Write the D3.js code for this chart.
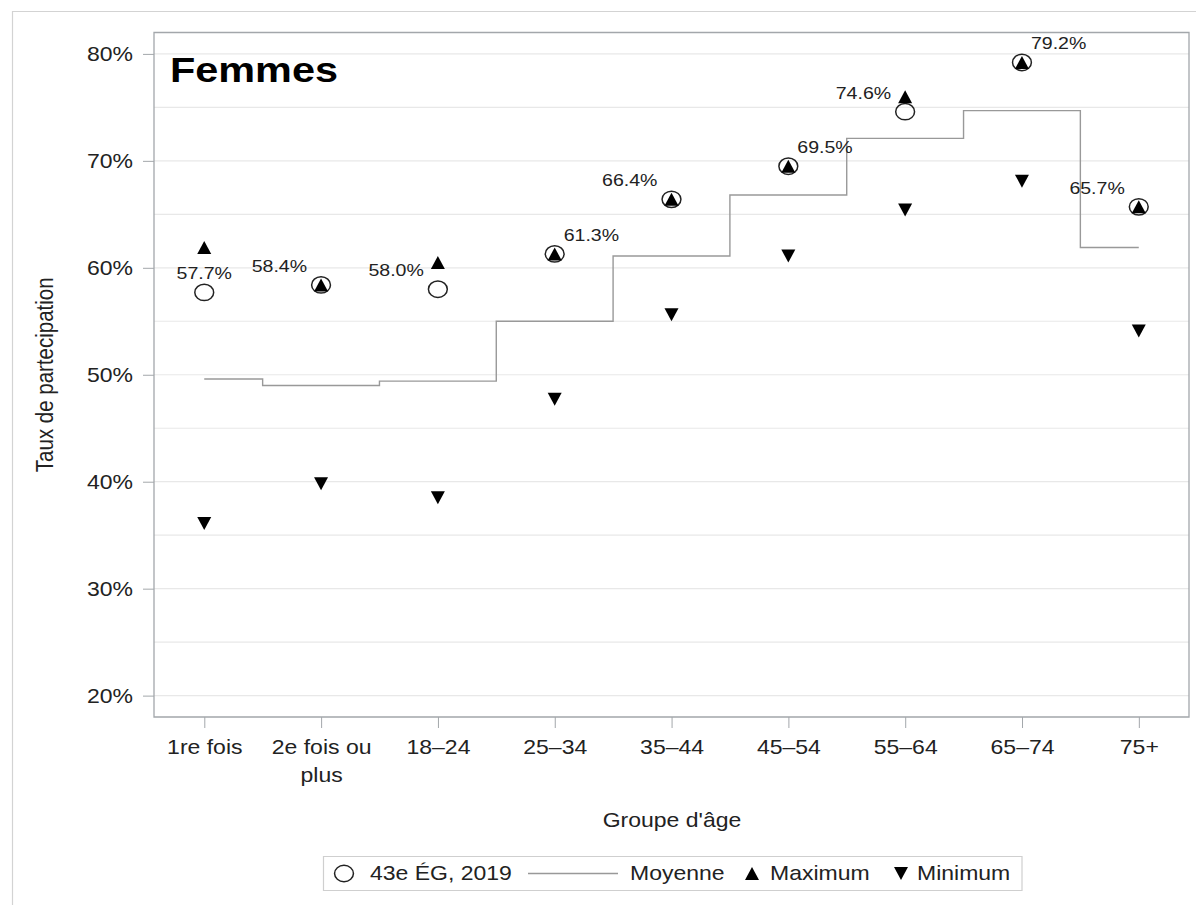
<!DOCTYPE html>
<html><head><meta charset="utf-8">
<script src="https://cdn.jsdelivr.net/npm/d3@7"></script>
<style>
body{margin:0;background:#fff;}
text{font-family:"Liberation Sans",Arial,sans-serif;fill:#222;}
</style>
</head><body><svg id="c"></svg>
<script>
// ---- data ----
const categories = ["1re fois","2e fois ou plus","18–24","25–34","35–44","45–54","55–64","65–74","75+"];
const valeurs2019 = [57.7,58.4,58.0,61.3,66.4,69.5,74.6,79.2,65.7];
const moyenne     = [49.6,49.0,49.4,55.0,61.1,66.8,72.1,74.7,61.9];
const maximum     = [61.9,58.4,60.5,61.3,66.4,69.5,76.0,79.2,65.7];
const minimum     = [36.1,39.8,38.5,47.7,55.6,61.1,65.4,68.1,54.1];
const yTicks = [20,30,40,50,60,70,80];
const gridValues = [20,25,30,35,40,45,50,55,60,65,70,75,80];
const labelPlacement = ["above","left","left","right","left","right","left","right","left"];
const titre = "Femmes";
const xTitre = "Groupe d'âge";
const yTitre = "Taux de partecipation";
const legendLabels = ["43e ÉG, 2019","Moyenne","Maximum","Minimum"];

// ---- layout ----
const W=1196,H=905,S=1.15,VBW=W/S;
const X = px => px/S;
const P = {l:154,r:1189,t:32.5,b:717};
const svg = d3.select("#c").attr("width",W).attr("height",H)
  .attr("viewBox",`0 0 ${VBW} ${H}`).attr("preserveAspectRatio","none");
svg.append("rect").attr("x",0).attr("y",0).attr("width",VBW).attr("height",H).attr("fill","#fff");
const NS = "non-scaling-stroke";

// outer frame
svg.append("rect").attr("x",X(12.5)).attr("y",11.5).attr("width",VBW).attr("height",H)
  .attr("fill","none").attr("stroke","#d3d3d3").attr("stroke-width",1.2).attr("vector-effect",NS);

const x = d3.scalePoint().domain(categories).range([X(P.l),X(P.r)]).padding(0.43);
const y = d3.scaleLinear().domain([18,82]).range([P.b,P.t]);

// grid
svg.append("g").selectAll("line").data(gridValues).join("line")
  .attr("x1",X(P.l)).attr("x2",X(P.r)).attr("y1",d=>y(d)).attr("y2",d=>y(d))
  .attr("stroke","#e8e8e8").attr("stroke-width",1.2).attr("vector-effect",NS);

// axes
const gy = svg.append("g").attr("transform",`translate(${X(P.l)},0)`)
  .call(d3.axisLeft(y).tickValues(yTicks).tickSize(X(11)).tickPadding(X(10)).tickFormat(d=>d+"%"));
gy.select(".domain").remove();
gy.selectAll("line").attr("stroke","#a3a7ab").attr("vector-effect",NS);
gy.selectAll("text").attr("font-size",20).attr("fill","#222").attr("font-family","Liberation Sans, Arial, sans-serif");

const gx = svg.append("g").attr("transform",`translate(0,${P.b})`)
  .call(d3.axisBottom(x).tickSize(11).tickPadding(12));
gx.select(".domain").remove();
gx.selectAll("line").attr("stroke","#a3a7ab").attr("vector-effect",NS);
gx.selectAll("text").attr("font-size",20).attr("fill","#222").attr("font-family","Liberation Sans, Arial, sans-serif")
  .each(function(){ wrap(d3.select(this), x.step()); });

function wrap(t, maxW){
  const words = t.text().split(" ");
  t.text(null);
  const x0 = 0, dy0 = t.attr("dy");
  let line=[], tspan = t.append("tspan").attr("x",x0).attr("dy",dy0);
  for(const w of words){
    line.push(w); tspan.text(line.join(" "));
    if(tspan.node().getComputedTextLength()>maxW && line.length>1){
      line.pop(); tspan.text(line.join(" "));
      line=[w];
      tspan = t.append("tspan").attr("x",x0).attr("dy","1.38em").text(w);
    }
  }
}

// plot frame
svg.append("rect").attr("x",X(P.l)).attr("y",P.t).attr("width",X(P.r)-X(P.l)).attr("height",P.b-P.t)
  .attr("fill","none").attr("stroke","#a3a7ab").attr("stroke-width",1.3).attr("vector-effect",NS);

// title
svg.append("text").attr("x",X(170)).attr("y",82).attr("font-size",36).attr("font-weight","bold")
  .style("fill","#000").text(titre);

// axis titles
svg.append("text").attr("x",X(672)).attr("y",827).attr("text-anchor","middle").attr("font-size",20).text(xTitre);
svg.append("text").attr("transform",`translate(${X(53)},${(P.t+P.b)/2}) rotate(-90)`)
  .attr("text-anchor","middle").attr("font-size",20.5).text(yTitre);

// step mean line
const data = categories.map((c,i)=>({c, v:valeurs2019[i], m:moyenne[i], mx:maximum[i], mn:minimum[i], pos:labelPlacement[i]}));
svg.append("path").datum(data)
  .attr("d", d3.line().x(d=>x(d.c)).y(d=>y(d.m)).curve(d3.curveStep))
  .attr("fill","none").attr("stroke","#999").attr("stroke-width",1.4).attr("vector-effect",NS);

// symbols
const triW = X(14), triH = 13;
const up = `M0,${-triH/2}L${triW/2},${triH/2}L${-triW/2},${triH/2}Z`;
const down = `M0,${triH/2}L${triW/2},${-triH/2}L${-triW/2},${-triH/2}Z`;

svg.append("g").selectAll("ellipse").data(data).join("ellipse")
  .attr("cx",d=>x(d.c)).attr("cy",d=>y(d.v)).attr("rx",8.2).attr("ry",8.2)
  .attr("fill","none").attr("stroke","#222").attr("stroke-width",1.5).attr("vector-effect",NS);

svg.append("g").selectAll("path").data(data).join("path")
  .attr("transform",d=>`translate(${x(d.c)},${y(d.mx)})`).attr("d",up).attr("fill","#000");
svg.append("g").selectAll("path").data(data).join("path")
  .attr("transform",d=>`translate(${x(d.c)},${y(d.mn)})`).attr("d",down).attr("fill","#000");

// data labels
svg.append("g").selectAll("text").data(data).join("text")
  .attr("font-size",17)
  .attr("x",d=> d.pos==="above" ? x(d.c) : d.pos==="left" ? x(d.c)-X(14) : x(d.c)+X(9))
  .attr("y",d=> y(d.v)-13)
  .attr("text-anchor",d=> d.pos==="above" ? "middle" : d.pos==="left" ? "end" : "start")
  .text(d=>d.v.toFixed(1)+"%");

// legend
const lg = svg.append("g");
const ly = 873.5;
lg.append("rect").attr("x",X(323.5)).attr("y",856.5).attr("width",X(1022)-X(323.5)).attr("height",34)
  .attr("fill","#fff").attr("stroke","#cfcfcf").attr("stroke-width",1.2).attr("vector-effect",NS);
lg.append("ellipse").attr("cx",X(344)).attr("cy",ly).attr("rx",8.2).attr("ry",8.2)
  .attr("fill","none").attr("stroke","#222").attr("stroke-width",1.5).attr("vector-effect",NS);
lg.append("text").attr("x",X(370)).attr("y",ly+7).attr("font-size",20).text(legendLabels[0]);
lg.append("line").attr("x1",X(528)).attr("x2",X(618)).attr("y1",ly).attr("y2",ly)
  .attr("stroke","#999").attr("stroke-width",1.4).attr("vector-effect",NS);
lg.append("text").attr("x",X(630)).attr("y",ly+7).attr("font-size",20).text(legendLabels[1]);
lg.append("path").attr("transform",`translate(${X(752)},${ly})`).attr("d",up).attr("fill","#000");
lg.append("text").attr("x",X(770)).attr("y",ly+7).attr("font-size",20).text(legendLabels[2]);
lg.append("path").attr("transform",`translate(${X(901)},${ly})`).attr("d",down).attr("fill","#000");
lg.append("text").attr("x",X(917)).attr("y",ly+7).attr("font-size",20).text(legendLabels[3]);
</script>
</body></html>
